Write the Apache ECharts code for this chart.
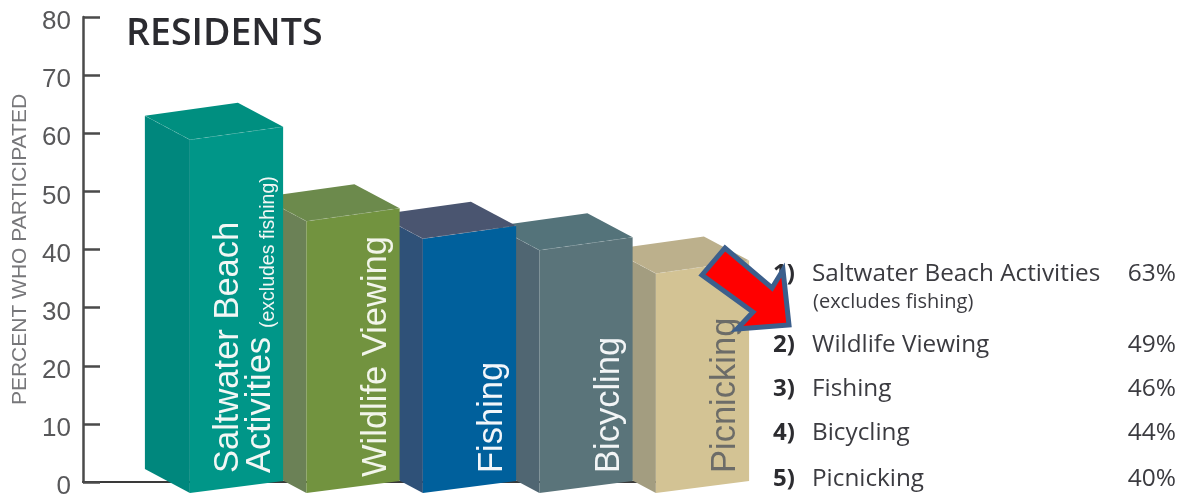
<!DOCTYPE html>
<html>
<head>
<meta charset="utf-8">
<style>html,body{margin:0;padding:0;background:#fff}#c{width:1179px;height:494px}</style>
<script src="https://cdn.jsdelivr.net/npm/echarts@6/dist/echarts.min.js"></script>
</head>
<body>
<div id="c"></div>
<script>
const categories = ['Saltwater Beach Activities', 'Wildlife Viewing', 'Fishing', 'Bicycling', 'Picnicking'];
const values = [63, 49, 46, 44, 40];
const yTicks = [0, 80, 10];
const barLabels = [['Saltwater Beach', 'Activities'], ['Wildlife Viewing'], ['Fishing'], ['Bicycling'], ['Picnicking']];
const note = '(excludes fishing)';
const frontColors = ['#009688', '#72933f', '#00609c', '#5a747a', '#d3c394'];
const sideColors = ['#00877d', '#6b8156', '#2f5178', '#506672', '#a39d80'];
const topColors = ['#008f80', '#6c8a4c', '#4a5570', '#54737a', '#bcb08c'];
const labelColors = ['#f2f7f5', '#f2f5ea', '#f2f6fa', '#f2f5f6', '#6c6c68'];

const chart = echarts.init(document.getElementById('c'), null, { renderer: 'canvas' });

function renderBar(params, api) {
  const i = api.value(0), v = api.value(1);
  const band = api.size([1, 0])[0];
  const top = api.coord([i, v]);
  const base = api.coord([i, 0]);
  const fw = band * 0.8;
  const fx = top[0] - band / 2 + (band - fw) / 2;
  const y = top[1], b = base[1];
  const z = 100 - i * 10;
  const L = [fx - 45, y], F = [fx, y + 24], R = [fx + fw, y + 11], B = [fx + 48, y - 13];
  const children = [
    { type: 'polygon', z2: z, shape: { points: [L, F, [fx, b + 11], [fx - 45, b - 13]] }, style: { fill: sideColors[i] } },
    { type: 'polygon', z2: z, shape: { points: [F, R, [fx + fw, b - 1], [fx, b + 11]] }, style: { fill: frontColors[i] } },
    { type: 'polygon', z2: z, shape: { points: [L, B, R, F] }, style: { fill: topColors[i] } },
    { type: 'polyline', z2: z + 1, shape: { points: [L, F, R] }, style: { fill: null, stroke: 'rgba(255,255,255,0.16)', lineWidth: 1, lineDash: [6, 5] } }
  ];
  const lines = barLabels[i];
  const offs = lines.length === 2 ? [56, 88] : [87.5];
  lines.forEach((t, k) => {
    children.push({
      type: 'text', z2: z + 2, rotation: Math.PI / 2, x: fx + offs[k], y: i === 1 ? 477 : 473,
      style: { text: t, fill: labelColors[i], font: '34.5px "Liberation Sans"', textAlign: 'left', textVerticalAlign: 'bottom' }
    });
  });
  if (i === 0) {
    children.push({
      type: 'text', z2: z + 2, rotation: Math.PI / 2, x: fx + 88.5, y: 328,
      style: { text: note, fill: labelColors[0], font: '19.5px "Liberation Sans"', textAlign: 'left', textVerticalAlign: 'bottom' }
    });
  }
  return { type: 'group', children };
}

const rowY = [274, 345, 389, 433, 479];
const panel = [];
const ink = '#3b3b40';
categories.forEach((c, i) => {
  panel.push({ type: 'text', z: 50, x: 773, y: rowY[i], style: { text: (i + 1) + ')', fill: '#2c2c30', font: '700 24px "Open Sans"', textVerticalAlign: 'middle' } });
  panel.push({ type: 'text', z: 50, x: 812, y: rowY[i], style: { text: c, fill: ink, font: '24.3px "Open Sans"', textVerticalAlign: 'middle' } });
  panel.push({ type: 'text', z: 50, x: 1176, y: rowY[i], style: { text: values[i] + '%', fill: ink, font: '24.5px "Open Sans"', textAlign: 'right', textVerticalAlign: 'middle' } });
});
panel.push({ type: 'text', z: 50, x: 813, y: 302, style: { text: note, fill: ink, font: '20px "Open Sans"', textVerticalAlign: 'middle' } });
panel.push({
  type: 'polygon', z: 100,
  shape: { points: [[702, 275], [725, 248], [772, 288], [783, 270], [789, 325], [737, 329], [753, 312]] },
  style: { fill: '#ff0000', stroke: '#3c5f8c', lineWidth: 5, lineJoin: 'miter' }
});

chart.setOption({
  animation: false,
  title: { text: 'RESIDENTS', left: 121, top: 10, textStyle: { fontFamily: 'Open Sans', fontWeight: 600, fontSize: 37.5, color: '#2b2b30' } },
  grid: { left: 83, top: 17, width: 619.5, bottom: 12, containLabel: false, outerBoundsMode: 'none' },
  xAxis: {
    type: 'value', min: -1.3176, max: 4,
    axisLine: { show: true, onZero: false, lineStyle: { color: '#3a3a3a', width: 2 } },
    axisTick: { show: false }, axisLabel: { show: false }, splitLine: { show: false }
  },
  yAxis: {
    type: 'value', min: yTicks[0], max: yTicks[1], interval: yTicks[2],
    name: 'PERCENT WHO PARTICIPATED', nameLocation: 'middle', nameRotate: 90, nameGap: 50,
    nameTextStyle: { fontFamily: 'Liberation Sans', fontSize: 21, color: '#77777a' },
    axisLine: { show: true, onZero: false, lineStyle: { color: '#4a4a4a', width: 2.5 } },
    axisTick: { show: true, inside: true, length: 17, lineStyle: { color: '#4a4a4a', width: 2.5 } },
    axisLabel: { fontFamily: 'Liberation Sans', fontSize: 26, color: '#58585a', margin: 12, verticalAlign: 'top', lineHeight: 10 },
    splitLine: { show: false }
  },
  series: [{
    type: 'custom', renderItem: renderBar, clip: false,
    encode: { x: 0, y: 1 },
    data: values.map((v, i) => [i, v])
  }],
  graphic: panel
});
</script>
</body>
</html>
